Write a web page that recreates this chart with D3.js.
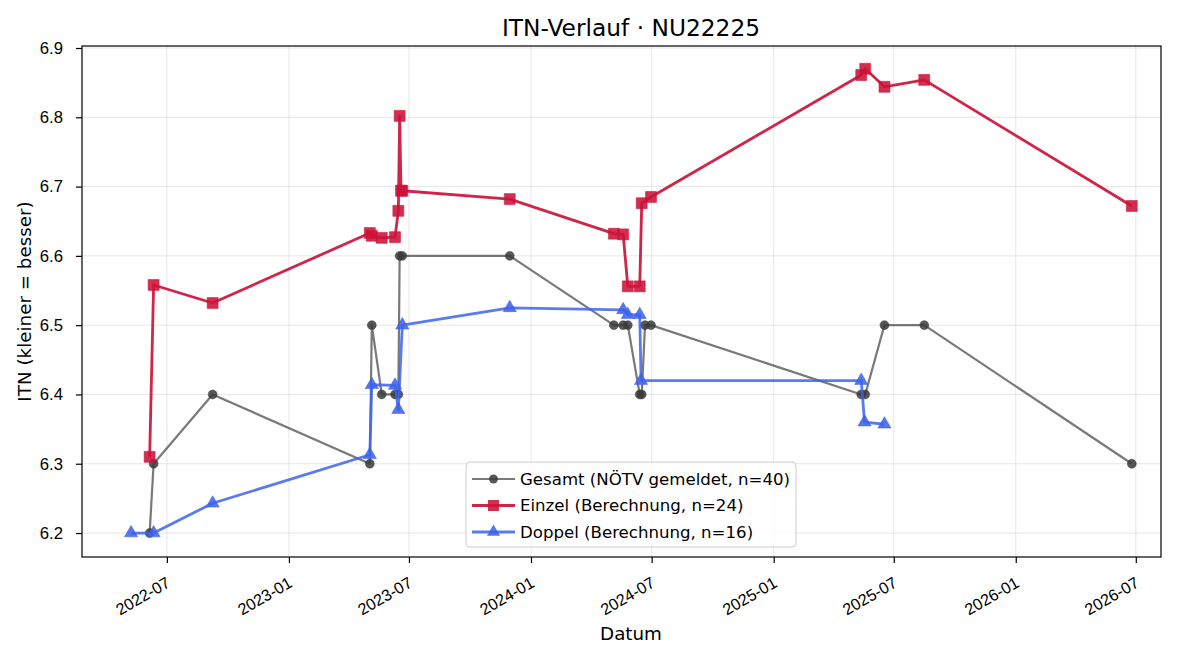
<!DOCTYPE html>
<html>
<head>
<meta charset="utf-8">
<script src="https://cdn.jsdelivr.net/npm/d3@7"></script>
<style>
  body { margin: 0; background: #fff; }
  svg { font-family: "DejaVu Sans", sans-serif; }
</style>
</head>
<body>
<div id="chart"></div>
<script>
const TITLE = 'ITN-Verlauf · NU22225';
const X_LABEL = 'Datum';
const Y_LABEL = 'ITN  (kleiner = besser)';

const gesamtDates = ['2022-06-05', '2022-06-11', '2022-09-08', '2023-05-03', '2023-05-06', '2023-05-21',
    '2023-06-10', '2023-06-15', '2023-06-17', '2023-06-21', '2023-11-30', '2024-05-05', '2024-05-19',
    '2024-05-26', '2024-06-13', '2024-06-16', '2024-06-21', '2024-06-30', '2025-05-13', '2025-05-19',
    '2025-06-17', '2025-08-16', '2026-06-25'];
const gesamtValues = [6.2, 6.3, 6.4, 6.3, 6.5, 6.4, 6.4, 6.4, 6.6, 6.6, 6.6, 6.5, 6.5,
    6.5, 6.4, 6.4, 6.5, 6.5, 6.4, 6.4, 6.5, 6.5, 6.3];

const einzelDates = ['2022-06-05', '2022-06-11', '2022-09-08', '2023-05-03', '2023-05-06', '2023-05-21',
    '2023-06-10', '2023-06-15', '2023-06-17', '2023-06-19', '2023-06-21', '2023-11-30', '2024-05-05',
    '2024-05-19', '2024-05-26', '2024-06-13', '2024-06-16', '2024-06-30', '2025-05-13', '2025-05-19',
    '2025-06-17', '2025-08-16', '2026-06-25'];
const einzelValues = [6.31, 6.558, 6.532, 6.633, 6.629, 6.626, 6.627, 6.665, 6.802, 6.694, 6.694,
    6.682, 6.632, 6.631, 6.556, 6.556, 6.676, 6.685, 6.861, 6.870, 6.844, 6.854, 6.672];

const doppelDates = ['2022-05-08', '2022-06-11', '2022-09-08', '2023-05-03', '2023-05-06', '2023-06-10',
    '2023-06-15', '2023-06-21', '2023-11-30', '2024-05-19', '2024-05-26', '2024-06-13', '2024-06-15',
    '2025-05-13', '2025-05-18', '2025-06-17'];
const doppelValues = [6.2, 6.2, 6.243, 6.313, 6.414, 6.413, 6.378, 6.5, 6.525, 6.522, 6.515, 6.515,
    6.42, 6.42, 6.36, 6.357];

const LEGEND_LABELS = ['Gesamt (NÖTV gemeldet, n=40)', 'Einzel (Berechnung, n=24)', 'Doppel (Berechnung, n=16)'];
const Y_TICKS = [6.2, 6.3, 6.4, 6.5, 6.6, 6.7, 6.8, 6.9];
const X_TICKS = ['2022-07-01', '2023-01-01', '2023-07-01', '2024-01-01', '2024-07-01',
    '2025-01-01', '2025-07-01', '2026-01-01', '2026-07-01'];

const parse = d3.timeParse('%Y-%m-%d');
const zip = (ds, vs) => ds.map((d, i) => ({ date: parse(d), value: vs[i] }));

const series = [
    { name: LEGEND_LABELS[0], data: zip(gesamtDates, gesamtValues), color: '#3a3a3a', lineOpacity: 0.68, markOpacity: 0.85, width: 2.2, shape: 'circle' },
    { name: LEGEND_LABELS[1], data: zip(einzelDates, einzelValues), color: '#cc1238', lineOpacity: 0.92, markOpacity: 0.88, width: 2.8, shape: 'square' },
    { name: LEGEND_LABELS[2], data: zip(doppelDates, doppelValues), color: '#3d63ec', lineOpacity: 0.85, markOpacity: 0.88, width: 2.8, shape: 'triangle' }
];

const width = 1200, height = 660;
const margin = { top: 46, right: 39, bottom: 103, left: 82 };
const iw = width - margin.left - margin.right;
const ih = height - margin.top - margin.bottom;
const textCenter = 631;

const svg = d3.select('#chart').append('svg')
    .attr('width', width).attr('height', height);

const g = svg.append('g').attr('transform', `translate(${margin.left},${margin.top})`);

const x = d3.scaleTime()
    .domain([parse('2022-02-23'), parse('2026-08-08')])
    .range([0, iw]);
const y = d3.scaleLinear()
    .domain([6.1654, 6.9029])
    .range([ih, 0]);

const xTicks = X_TICKS.map(parse);

// Grid
g.append('g')
    .selectAll('line').data(xTicks).enter().append('line')
    .attr('x1', (d) => x(d)).attr('x2', (d) => x(d))
    .attr('y1', 0).attr('y2', ih)
    .attr('stroke', '#b0b0b0').attr('stroke-opacity', 0.3).attr('stroke-width', 1);
g.append('g')
    .selectAll('line').data(Y_TICKS).enter().append('line')
    .attr('x1', 0).attr('x2', iw)
    .attr('y1', (d) => y(d)).attr('y2', (d) => y(d))
    .attr('stroke', '#b0b0b0').attr('stroke-opacity', 0.3).attr('stroke-width', 1);

// Axes
const xAxis = g.append('g').attr('transform', `translate(0,${ih})`)
    .call(d3.axisBottom(x).tickValues(xTicks).tickFormat(d3.timeFormat('%Y-%m')).tickSizeOuter(0).tickSize(6));
xAxis.selectAll('text')
    .attr('font-size', '16.2px').attr('fill', '#000')
    .attr('text-anchor', 'end')
    .attr('dy', null).attr('y', null)
    .attr('transform', 'translate(4,29) rotate(-30)');
xAxis.select('.domain').remove();

const yAxis = g.append('g')
    .call(d3.axisLeft(y).tickValues(Y_TICKS).tickFormat(d3.format('.1f')).tickSizeOuter(0).tickSize(6));
yAxis.selectAll('text').attr('font-size', '16.7px').attr('fill', '#000').attr('x', -19);
yAxis.select('.domain').remove();
g.selectAll('.tick line').attr('stroke', '#000').attr('stroke-width', 1.2);

// Frame
g.append('rect').attr('x', 0).attr('y', 0).attr('width', iw).attr('height', ih)
    .attr('fill', 'none').attr('stroke', '#000').attr('stroke-width', 1.2);

// Lines and markers
const line = d3.line().x((d) => x(d.date)).y((d) => y(d.value));
const symbols = {
    circle: d3.symbol().type(d3.symbolCircle).size(62),
    square: d3.symbol().type(d3.symbolSquare).size(120),
    triangle: d3.symbol().type(d3.symbolTriangle).size(75)
};

series.forEach((s) => {
    g.append('path').datum(s.data)
        .attr('fill', 'none')
        .attr('stroke', s.color).attr('stroke-opacity', s.lineOpacity)
        .attr('stroke-width', s.width).attr('stroke-linejoin', 'round')
        .attr('d', line);
    g.append('g').selectAll('path').data(s.data).enter().append('path')
        .attr('transform', (d) => `translate(${x(d.date)},${y(d.value)})`)
        .attr('d', symbols[s.shape])
        .attr('fill', s.color).attr('fill-opacity', s.markOpacity)
        .attr('stroke', s.color).attr('stroke-opacity', s.markOpacity * 0.6).attr('stroke-width', 1);
});

// Titles
svg.append('text')
    .attr('x', textCenter).attr('y', 36)
    .attr('text-anchor', 'middle').attr('font-size', '23.3px').attr('fill', '#000')
    .text(TITLE);
svg.append('text')
    .attr('x', textCenter).attr('y', 640)
    .attr('text-anchor', 'middle').attr('font-size', '18.3px').attr('fill', '#000')
    .text(X_LABEL);
svg.append('text')
    .attr('transform', `translate(31,${margin.top + ih / 2}) rotate(-90)`)
    .attr('text-anchor', 'middle').attr('font-size', '18.3px').attr('fill', '#000')
    .text(Y_LABEL);

// Legend
const lg = g.append('g').attr('transform', `translate(${466 - margin.left},${462 - margin.top})`);
lg.append('rect').attr('x', 0).attr('y', 0).attr('width', 330).attr('height', 85).attr('rx', 4)
    .attr('fill', '#fff').attr('fill-opacity', 0.8).attr('stroke', '#ccc').attr('stroke-width', 1);
series.forEach((s, i) => {
    const yy = 17 + i * 26.5;
    lg.append('line').attr('x1', 6).attr('x2', 49).attr('y1', yy).attr('y2', yy)
        .attr('stroke', s.color).attr('stroke-opacity', s.lineOpacity).attr('stroke-width', s.width);
    lg.append('path').attr('transform', `translate(27.5,${yy})`).attr('d', symbols[s.shape])
        .attr('fill', s.color).attr('fill-opacity', s.markOpacity);
    lg.append('text').attr('x', 54).attr('y', yy).attr('dy', '0.35em')
        .attr('font-size', '16.6px').attr('fill', '#000').text(s.name);
});
</script>
</body>
</html>
